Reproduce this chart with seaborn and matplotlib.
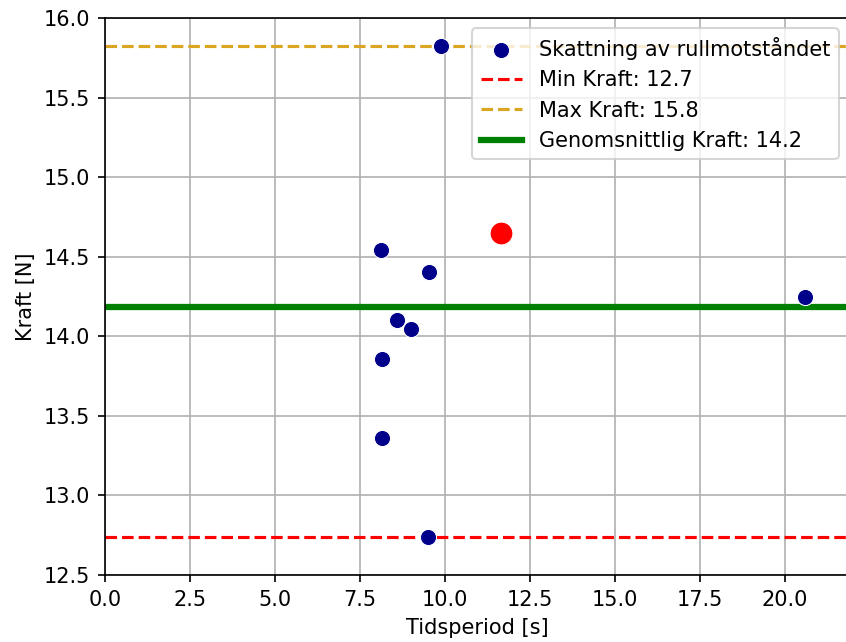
import matplotlib
matplotlib.use("Agg")
import matplotlib.pyplot as plt
import seaborn as sns
import numpy as np
import pandas as pd

# Data
tid = [9.88, 8.11, 9.52, 8.60, 8.99, 8.15, 8.15, 9.50, 20.60]
kraft = [15.826, 14.54, 14.407, 14.10, 14.046, 13.855, 13.363, 12.74, 14.247]
extra_tid = [11.66]
extra_kraft = [14.652]

min_kraft = 12.74
max_kraft = 15.826
medel_kraft = 14.184

df = pd.DataFrame({"Tidsperiod": tid, "Kraft": kraft})
df_extra = pd.DataFrame({"Tidsperiod": extra_tid, "Kraft": extra_kraft})

dpi = 150
fig = plt.figure(figsize=(846 / dpi, 642 / dpi), dpi=dpi)
ax = fig.add_axes([105 / 846, (642 - 575) / 642, 744 / 846, 557 / 642])

sns.scatterplot(data=df, x="Tidsperiod", y="Kraft", color="darkblue", s=60,
                edgecolor="white", linewidth=0.5, label="Skattning av rullmotståndet",
                ax=ax, zorder=3)
sns.scatterplot(data=df_extra, x="Tidsperiod", y="Kraft", color="red", s=120,
                edgecolor="white", linewidth=0.5, ax=ax, zorder=3, legend=False)

ax.axhline(min_kraft, color="red", linestyle="--", linewidth=1.5,
           label=f"Min Kraft: {min_kraft:.1f}")
ax.axhline(max_kraft, color="goldenrod", linestyle="--", linewidth=1.5,
           label=f"Max Kraft: {max_kraft:.1f}")
ax.axhline(medel_kraft, color="green", linestyle="-", linewidth=3,
           label=f"Genomsnittlig Kraft: {medel_kraft:.1f}")

ax.set_xlim(0, 21.88)
ax.set_ylim(12.5, 16.0)
ax.set_xticks(np.arange(0, 20.1, 2.5))
ax.set_yticks(np.arange(12.5, 16.01, 0.5))
ax.set_xlabel("Tidsperiod [s]")
ax.set_ylabel("Kraft [N]")
ax.grid(True, color="#b0b0b0", linewidth=0.8)
ax.set_axisbelow(True)
ax.legend(loc="upper right")

fig.savefig("out.png", dpi=dpi)
